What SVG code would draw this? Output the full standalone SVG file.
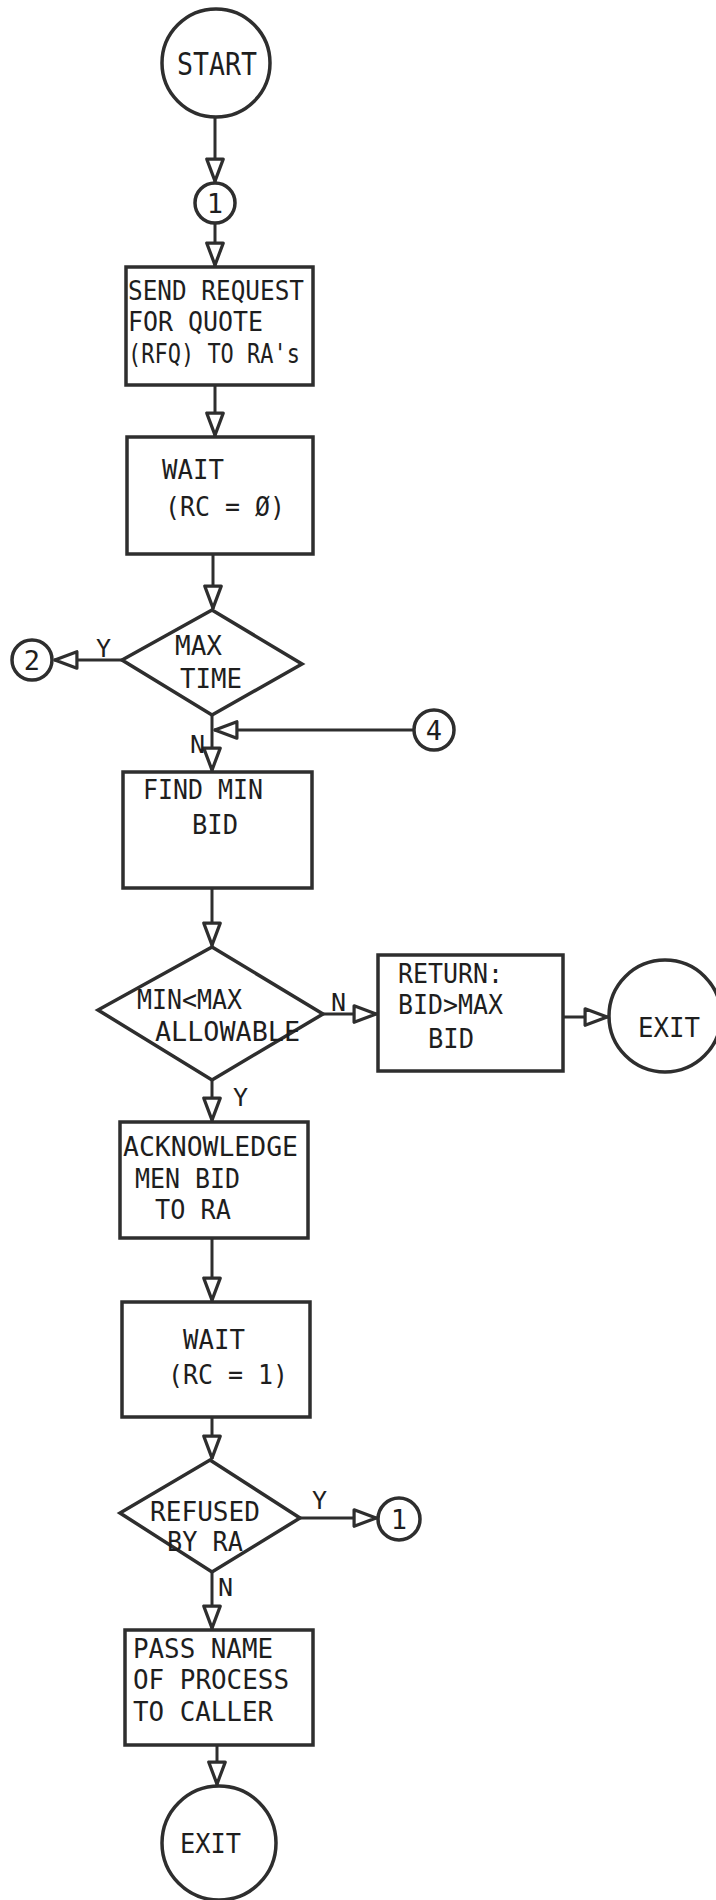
<svg xmlns="http://www.w3.org/2000/svg" width="716" height="1900" viewBox="0 0 716 1900">
<style>
.shape{fill:#fff;stroke:#2e2e2e;stroke-width:3.5}
.t{font-family:"DejaVu Sans Mono","Liberation Mono",monospace;font-size:27px;fill:#1e1e1e}
.big{font-size:32px}
.lbl{font-family:"DejaVu Sans Mono","Liberation Mono",monospace;font-size:25px;fill:#1e1e1e}
.c{text-anchor:middle}
.ln{fill:none;stroke:#2e2e2e;stroke-width:3;marker-end:url(#ah)}
</style>
<defs>
<marker id="ah" viewBox="0 0 30 24" refX="28" refY="12" markerWidth="28" markerHeight="22" markerUnits="userSpaceOnUse" orient="auto">
<path d="M3,3 L27,12 L3,21 Z" fill="#fff" stroke="#2e2e2e" stroke-width="3.5" stroke-linejoin="round"/>
</marker>
</defs>
<rect width="716" height="1900" fill="#fff"/>
<g id="connectors">
<path class="ln" d="M215,117 L215,182"/>
<path class="ln" d="M215,224 L215,266"/>
<path class="ln" d="M215,385 L215,436"/>
<path class="ln" d="M213,554 L213,609"/>
<path class="ln" d="M122,660 L54,660"/>
<path class="ln" d="M212,715 L212,771"/>
<path class="ln" d="M414,730 L214,730"/>
<path class="ln" d="M212,888 L212,946"/>
<path class="ln" d="M323,1014 L377,1014"/>
<path class="ln" d="M563,1017 L608,1017"/>
<path class="ln" d="M212,1080 L212,1121"/>
<path class="ln" d="M212,1238 L212,1301"/>
<path class="ln" d="M212,1417 L212,1459"/>
<path class="ln" d="M300,1518 L377,1518"/>
<path class="ln" d="M212,1572 L212,1629"/>
<path class="ln" d="M217,1745 L217,1785"/>
<text class="lbl" x="96" y="657">Y</text>
<text class="lbl" x="190" y="753">N</text>
<text class="lbl" x="331" y="1011">N</text>
<text class="lbl" x="233" y="1106">Y</text>
<text class="lbl" x="312" y="1509">Y</text>
<text class="lbl" x="218" y="1596">N</text>
</g>
<g id="start">
<circle class="shape" cx="216" cy="63" r="54"/>
<text class="t big c" x="217" y="75" textLength="80" lengthAdjust="spacingAndGlyphs">START</text>
</g>
<g id="conn1-top">
<circle class="shape" cx="215" cy="203" r="20"/>
<text class="t c" x="215" y="213">1</text>
</g>
<g id="send-rfq">
<rect class="shape" x="126" y="267" width="187" height="118"/>
<text class="t" x="128" y="300" textLength="176" lengthAdjust="spacingAndGlyphs">SEND REQUEST</text>
<text class="t" x="128" y="331" textLength="135" lengthAdjust="spacingAndGlyphs">FOR QUOTE</text>
<text class="t" x="128" y="363" textLength="172" lengthAdjust="spacingAndGlyphs">(RFQ) TO RA's</text>
</g>
<g id="wait0">
<rect class="shape" x="127" y="437" width="186" height="117"/>
<text class="t" x="162" y="479" textLength="62" lengthAdjust="spacingAndGlyphs">WAIT</text>
<text class="t" x="165" y="516" textLength="120" lengthAdjust="spacingAndGlyphs">(RC = Ø)</text>
</g>
<g id="max-time">
<polygon class="shape" points="212,610 302,664 212,715 122,660"/>
<text class="t" x="175" y="655" textLength="47" lengthAdjust="spacingAndGlyphs">MAX</text>
<text class="t" x="180" y="688" textLength="62" lengthAdjust="spacingAndGlyphs">TIME</text>
</g>
<g id="conn2">
<circle class="shape" cx="32" cy="660" r="20"/>
<text class="t c" x="32" y="670">2</text>
</g>
<g id="conn4">
<circle class="shape" cx="434" cy="730" r="20"/>
<text class="t c" x="434" y="740">4</text>
</g>
<g id="find-min">
<rect class="shape" x="123" y="772" width="189" height="116"/>
<text class="t" x="143" y="799" textLength="120" lengthAdjust="spacingAndGlyphs">FIND MIN</text>
<text class="t" x="192" y="834" textLength="46" lengthAdjust="spacingAndGlyphs">BID</text>
</g>
<g id="min-max">
<polygon class="shape" points="212,947 323,1014 212,1080 98,1010"/>
<text class="t" x="137" y="1009" textLength="105" lengthAdjust="spacingAndGlyphs">MIN&lt;MAX</text>
<text class="t" x="155" y="1041" textLength="145" lengthAdjust="spacingAndGlyphs">ALLOWABLE</text>
</g>
<g id="return-bid">
<rect class="shape" x="378" y="955" width="185" height="116"/>
<text class="t" x="398" y="983" textLength="105" lengthAdjust="spacingAndGlyphs">RETURN:</text>
<text class="t" x="398" y="1014" textLength="105" lengthAdjust="spacingAndGlyphs">BID&gt;MAX</text>
<text class="t" x="428" y="1048" textLength="46" lengthAdjust="spacingAndGlyphs">BID</text>
</g>
<g id="exit-right">
<circle class="shape" cx="665" cy="1016" r="56"/>
<text class="t" x="638" y="1037" textLength="62" lengthAdjust="spacingAndGlyphs">EXIT</text>
</g>
<g id="acknowledge">
<rect class="shape" x="120" y="1122" width="188" height="116"/>
<text class="t" x="123" y="1156" textLength="175" lengthAdjust="spacingAndGlyphs">ACKNOWLEDGE</text>
<text class="t" x="135" y="1188" textLength="105" lengthAdjust="spacingAndGlyphs">MEN BID</text>
<text class="t" x="155" y="1219" textLength="76" lengthAdjust="spacingAndGlyphs">TO RA</text>
</g>
<g id="wait1">
<rect class="shape" x="122" y="1302" width="188" height="115"/>
<text class="t" x="183" y="1349" textLength="62" lengthAdjust="spacingAndGlyphs">WAIT</text>
<text class="t" x="168" y="1384" textLength="120" lengthAdjust="spacingAndGlyphs">(RC = 1)</text>
</g>
<g id="refused">
<polygon class="shape" points="210,1460 300,1518 212,1572 120,1513"/>
<text class="t" x="150" y="1521" textLength="110" lengthAdjust="spacingAndGlyphs">REFUSED</text>
<text class="t" x="167" y="1551" textLength="76" lengthAdjust="spacingAndGlyphs">BY RA</text>
</g>
<g id="conn1-right">
<circle class="shape" cx="399" cy="1519" r="21"/>
<text class="t c" x="399" y="1529">1</text>
</g>
<g id="pass-name">
<rect class="shape" x="125" y="1630" width="188" height="115"/>
<text class="t" x="133" y="1658" textLength="140" lengthAdjust="spacingAndGlyphs">PASS NAME</text>
<text class="t" x="133" y="1689" textLength="156" lengthAdjust="spacingAndGlyphs">OF PROCESS</text>
<text class="t" x="133" y="1721" textLength="140" lengthAdjust="spacingAndGlyphs">TO CALLER</text>
</g>
<g id="exit-bottom">
<circle class="shape" cx="219" cy="1843" r="57"/>
<text class="t" x="180" y="1853" textLength="61" lengthAdjust="spacingAndGlyphs">EXIT</text>
</g>
</svg>
